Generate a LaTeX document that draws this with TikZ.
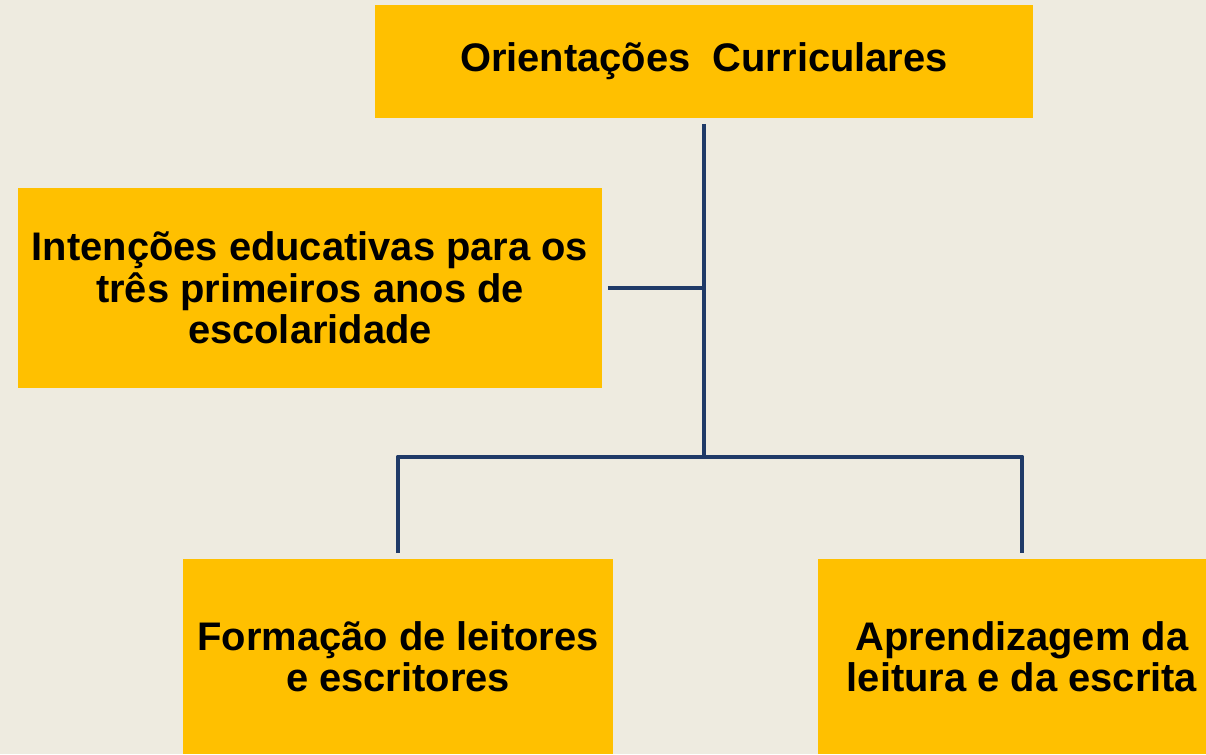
\documentclass[tikz,border=0pt]{standalone}
\usepackage{fontspec}
\setmainfont{Liberation Sans}
\definecolor{bgc}{HTML}{EEEBE0}
\definecolor{boxc}{HTML}{FFC000}
\definecolor{linec}{HTML}{1F3A68}
\begin{document}
\begin{tikzpicture}[x=0.02cm,y=-0.02cm,
  box/.style={fill=boxc,draw=none,inner sep=0pt,outer sep=0pt,align=center,
    font=\fontsize{22.7}{23.6}\selectfont\bfseries},
  conn/.style={draw=linec,line width=2.8pt,line join=round,shorten <=0.12cm,shorten >=0.12cm}]
\fill[bgc] (0,0) rectangle (1206,754);
\useasboundingbox (0,0) rectangle (1206,754);
\node[box,minimum width=13.16cm,minimum height=2.26cm] (top) at (704,61.5) {Orientações\ \ Curriculares};
\node[box,minimum width=11.68cm,minimum height=4cm] (left) at (310,288) {Intenções educativas para os\\três primeiros anos de\\escolaridade};
\node[box,minimum width=8.6cm,minimum height=3.9cm] (bl) at (398,656.5) {Formação de leitores\\e escritores};
\node[box,minimum width=8.16cm,minimum height=3.9cm] (br) at (1022,656.5) {Aprendizagem da\\leitura e da escrita};
\coordinate (j) at (704,457);
\draw[conn,shorten >=0pt] (top.south) -- (j);
\draw[conn,shorten >=0pt] (left.east) -- (left.east -| top.south);
\draw[conn] (bl.north) |- (j) -| (br.north);
\end{tikzpicture}
\end{document}
